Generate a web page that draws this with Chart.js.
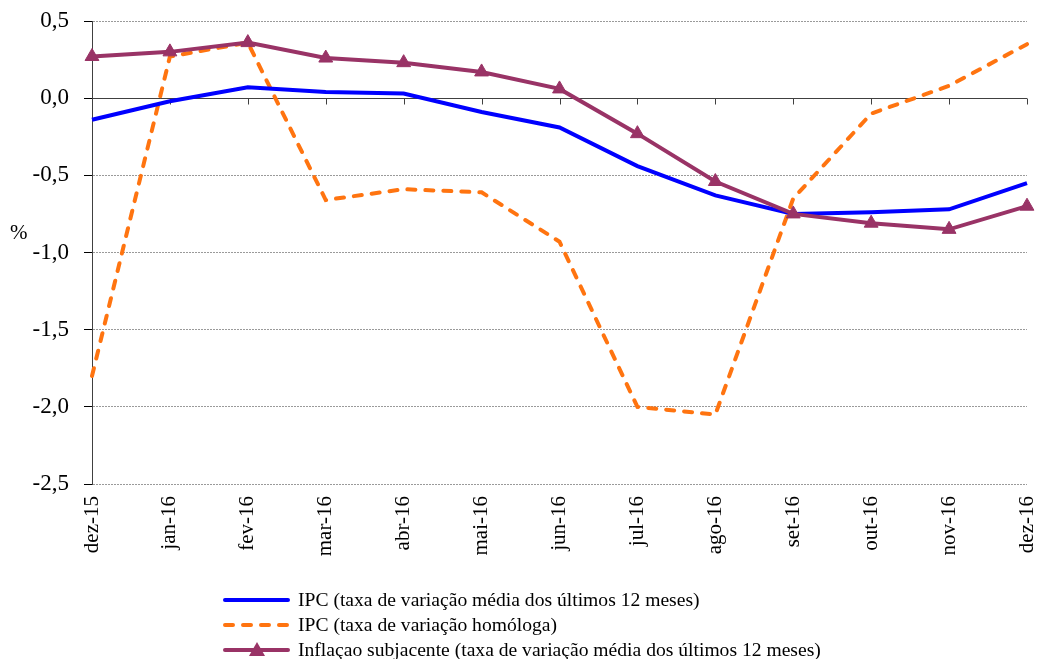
<!DOCTYPE html>
<html>
<head>
<meta charset="utf-8">
<script src="https://cdn.jsdelivr.net/npm/chart.js@4.4.0/dist/chart.umd.min.js"></script>
<style>
  html, body { margin: 0; padding: 0; background: #fff; }
  #wrap { position: relative; width: 1038px; height: 659px; font-family: "Liberation Serif", "DejaVu Serif", serif; }
  #c { position: absolute; left: 0; top: 0; }
  #pct { position: absolute; left: 10px; top: 220px; font-size: 21px; color: #000; }
  #legend { position: absolute; left: 222px; top: 587px; font-size: 19.6px; color: #000; }
  .row { height: 25px; display: flex; align-items: center; }
  .row canvas { margin-right: 6px; }
</style>
</head>
<body>
<div id="wrap">
  <canvas id="c" width="1038" height="580"></canvas>
  <div id="pct">%</div>
  <div id="legend"></div>
</div>
<script>
const categories = ['dez-15','jan-16','fev-16','mar-16','abr-16','mai-16','jun-16','jul-16','ago-16','set-16','out-16','nov-16','dez-16'];
const ipcMedia    = [-0.14, -0.02, 0.07, 0.04, 0.03, -0.09, -0.19, -0.44, -0.63, -0.75, -0.74, -0.72, -0.55];
const ipcHomologa = [-1.80, 0.27, 0.36, -0.66, -0.59, -0.61, -0.93, -2.00, -2.05, -0.65, -0.10, 0.08, 0.35];
const subjacente  = [0.27, 0.30, 0.36, 0.26, 0.23, 0.17, 0.06, -0.23, -0.54, -0.75, -0.81, -0.85, -0.70];
const seriesNames = [
  'IPC (taxa de variação média dos últimos 12 meses)',
  'IPC (taxa de variação homóloga)',
  'Inflaçao subjacente (taxa de variação média dos últimos 12 meses)'
];
const yMin = -2.5, yMax = 0.5, yStep = 0.5;

const BLUE = '#0000FF', ORANGE = '#FF7410', PURPLE = '#993366';
const FONT = '"Liberation Serif", "DejaVu Serif", serif';

const zeroLine = {
  id: 'zeroLine',
  beforeDatasetsDraw(chart) {
    const { ctx, scales: { x, y }, chartArea } = chart;
    const py = Math.round(y.getPixelForValue(0)) + 0.5;
    ctx.save();
    ctx.strokeStyle = '#404040';
    ctx.lineWidth = 1;
    ctx.beginPath();
    ctx.moveTo(chartArea.left, py);
    ctx.lineTo(chartArea.right, py);
    categories.forEach((c, i) => {
      const px = Math.round(x.getPixelForValue(i)) + 0.5;
      ctx.moveTo(px, py);
      ctx.lineTo(px, py + 6);
    });
    ctx.stroke();
    ctx.restore();
  }
};

new Chart(document.getElementById('c'), {
  type: 'line',
  data: {
    labels: categories,
    datasets: [
      { label: seriesNames[0], data: ipcMedia, borderColor: BLUE, backgroundColor: BLUE, borderWidth: 4, pointRadius: 0, tension: 0, order: 2 },
      { label: seriesNames[1], data: ipcHomologa, borderColor: ORANGE, backgroundColor: ORANGE, borderWidth: 4, borderDash: [8, 10], borderCapStyle: 'round', pointRadius: 0, tension: 0, order: 3 },
      { label: seriesNames[2], data: subjacente, borderColor: PURPLE, backgroundColor: PURPLE, borderWidth: 4, pointStyle: 'triangle', pointRadius: 8, pointBorderWidth: 1, tension: 0, order: 1 }
    ]
  },
  options: {
    responsive: false,
    animation: false,
    layout: { padding: { left: 0, right: 11, top: 21, bottom: 0 } },
    plugins: { legend: { display: false }, tooltip: { enabled: false } },
    scales: {
      x: {
        offset: false,
        grid: { display: false, drawTicks: false },
        border: { display: false },
        ticks: { minRotation: 90, maxRotation: 90, color: '#000', font: { family: FONT, size: 21 }, padding: 12, autoSkip: false },
        afterFit(s) { s.height = 96; s.paddingLeft = 0; s.paddingRight = 0; }
      },
      y: {
        min: yMin, max: yMax,
        grid: { color: '#9a9a9a', lineWidth: 1, tickColor: '#000', tickLength: 8, tickBorderDash: [] },
        border: { display: true, color: '#404040', width: 1, dash: [2, 1] },
        ticks: { stepSize: yStep, color: '#000', font: { family: FONT, size: 23 }, padding: 15,
          callback: v => v.toFixed(1).replace('.', ',') },
        afterFit(s) { s.width = 92; s.paddingTop = 0; s.paddingBottom = 0; }
      }
    }
  },
  plugins: [zeroLine]
});

// legend
const legend = document.getElementById('legend');
const styles = [
  { color: BLUE, dash: [], tri: false },
  { color: ORANGE, dash: [8, 10], tri: false },
  { color: PURPLE, dash: [], tri: true }
];
seriesNames.forEach((name, i) => {
  const row = document.createElement('div');
  row.className = 'row';
  const cv = document.createElement('canvas');
  cv.width = 70; cv.height = 20;
  const g = cv.getContext('2d');
  const st = styles[i];
  g.strokeStyle = st.color; g.lineWidth = 4; g.lineCap = 'round';
  g.setLineDash(st.dash);
  g.beginPath(); g.moveTo(3, 10); g.lineTo(66, 10); g.stroke();
  if (st.tri) {
    g.fillStyle = st.color; g.beginPath();
    g.moveTo(35, 2); g.lineTo(43, 16); g.lineTo(27, 16); g.closePath(); g.fill();
  }
  row.appendChild(cv);
  const t = document.createElement('span');
  t.textContent = name;
  row.appendChild(t);
  legend.appendChild(row);
});
</script>
</body>
</html>
